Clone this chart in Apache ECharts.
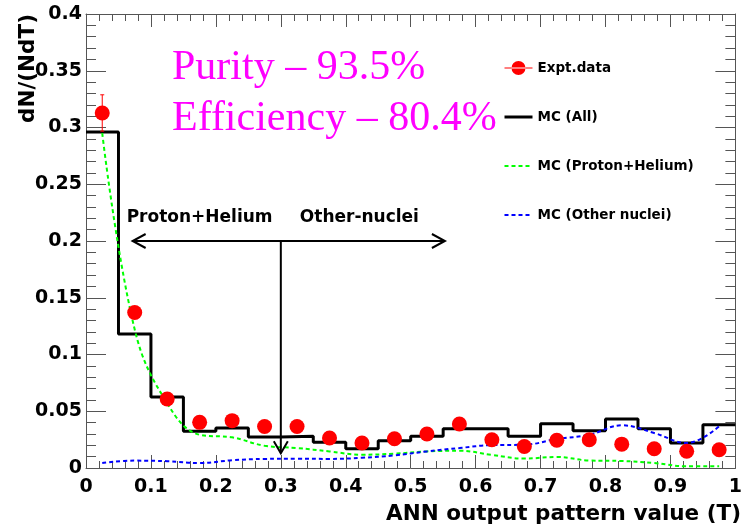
<!DOCTYPE html>
<html>
<head>
<meta charset="utf-8">
<script src="https://cdn.jsdelivr.net/npm/echarts@6/dist/echarts.min.js"></script>
<style>
  html, body { margin: 0; padding: 0; background: #fff; }
  #chart { width: 745px; height: 528px; }
</style>
</head>
<body>
<div id="chart"></div>
<script>
// bin centres of the ANN output T (20 bins of 0.05)
const tCentres = [0.025, 0.075, 0.125, 0.175, 0.225, 0.275, 0.325, 0.375, 0.425, 0.475,
                  0.525, 0.575, 0.625, 0.675, 0.725, 0.775, 0.825, 0.875, 0.925, 0.975];
const binHalf = 0.025;

const mcAll = [0.296, 0.118, 0.0625, 0.0323, 0.0352, 0.0273, 0.028, 0.0226, 0.017, 0.0241,
               0.028, 0.0346, 0.0346, 0.028, 0.039, 0.0328, 0.0432, 0.0346, 0.022, 0.038];
const mcProtonHelium = [0.295, 0.122, 0.057, 0.0293, 0.027, 0.0196, 0.0176, 0.0146, 0.0117, 0.0126,
                        0.0146, 0.0152, 0.0115, 0.0083, 0.0097, 0.0066, 0.0062, 0.0044, 0.0015, 0.0015];
const mcOther = [0.0044, 0.0065, 0.006, 0.0044, 0.0068, 0.008, 0.0082, 0.008, 0.009, 0.0111,
                 0.0146, 0.0176, 0.0202, 0.0205, 0.0255, 0.0293, 0.0376, 0.0308, 0.022, 0.0367];
const exptData = [0.3128, 0.137, 0.0608, 0.0402, 0.0417, 0.0366, 0.0366, 0.0264, 0.022, 0.0258,
                  0.0299, 0.0388, 0.0249, 0.019, 0.0244, 0.0249, 0.021, 0.017, 0.0147, 0.0161];
const exptErr = [0.016, 0.005, 0.004, 0.003, 0.003, 0.003, 0.003, 0.003, 0.003, 0.003,
                 0.003, 0.004, 0.003, 0.003, 0.003, 0.003, 0.003, 0.003, 0.003, 0.003];

const legendNames = ["Expt.data", "MC (All)", "MC (Proton+Helium)", "MC (Other nuclei)"];
const purityText = "Purity \u2013 93.5%";
const efficiencyText = "Efficiency \u2013 80.4%";

const SANS = "DejaVu Sans";
const FRAME = "#555";

// histogram outline: left edge of each bin, plus the closing right edge
const histData = mcAll.map((v, i) => [tCentres[i] - binHalf, v]);
histData.push([tCentres[tCentres.length - 1] + binHalf, mcAll[mcAll.length - 1]]);

const pairs = arr => arr.map((v, i) => [tCentres[i], v]);

const xAxisBase = position => ({
    type: "value", position, min: 0, max: 1, interval: 0.1,
    axisLine: {show: true, onZero: false, lineStyle: {color: FRAME, width: 1}},
    axisTick: {show: true, inside: true, length: 13, lineStyle: {color: FRAME}},
    minorTick: {show: true, splitNumber: 5, length: 7, lineStyle: {color: FRAME}},
    splitLine: {show: false},
    axisLabel: {
        show: position === "bottom", margin: 10, color: "#000",
        fontFamily: SANS, fontWeight: "bold", fontSize: 19
    }
});

const yAxisBase = position => ({
    type: "value", position, min: 0, max: 0.4, interval: 0.05,
    axisLine: {show: true, onZero: false, lineStyle: {color: FRAME, width: 1}},
    axisTick: {show: true, inside: true, length: 20, lineStyle: {color: FRAME}},
    minorTick: {show: true, splitNumber: 5, length: 10, lineStyle: {color: FRAME}},
    splitLine: {show: false},
    axisLabel: {
        show: position === "left", margin: 4, color: "#000",
        fontFamily: SANS, fontWeight: "bold", fontSize: 19
    }
});

// error bars with small caps
const renderErrorBar = (params, api) => {
    const x = api.value(0), y = api.value(1), e = api.value(2);
    const top = api.coord([x, y + e]);
    const bot = api.coord([x, y - e]);
    const style = {stroke: "#ff0000", lineWidth: 1};
    return {
        type: "group",
        children: [
            {type: "line", shape: {x1: top[0], y1: top[1], x2: bot[0], y2: bot[1]}, style},
            {type: "line", shape: {x1: top[0] - 2, y1: top[1], x2: top[0] + 2, y2: top[1]}, style},
            {type: "line", shape: {x1: bot[0] - 2, y1: bot[1], x2: bot[0] + 2, y2: bot[1]}, style}
        ]
    };
};

// the Proton+Helium / Other-nuclei arrows and labels
const renderArrows = (params, api) => {
    const left = api.coord([0.0718, 0.2]);
    const right = api.coord([0.5527, 0.2]);
    const mid = api.coord([0.3, 0.2]);
    const low = api.coord([0.3, 0.013]);
    const style = {stroke: "#000", lineWidth: 2, fill: null};
    const txt = {fill: "#000", font: `bold 17px "${SANS}"`, verticalAlign: "middle", align: "left"};
    return {
        type: "group",
        children: [
            {type: "line", shape: {x1: left[0], y1: left[1], x2: right[0], y2: right[1]}, style},
            {type: "polyline", shape: {points: [[left[0] + 13, left[1] - 7], left, [left[0] + 13, left[1] + 7]]}, style},
            {type: "polyline", shape: {points: [[right[0] - 13, right[1] - 7], right, [right[0] - 13, right[1] + 7]]}, style},
            {type: "line", shape: {x1: mid[0], y1: mid[1], x2: low[0], y2: low[1]}, style},
            {type: "polyline", shape: {points: [[low[0] - 7, low[1] - 12], low, [low[0] + 7, low[1] - 12]]}, style},
            {type: "text", style: Object.assign({x: left[0] - 6, y: left[1] - 23, text: "Proton+Helium"}, txt)},
            {type: "text", style: Object.assign({x: mid[0] + 19, y: mid[1] - 23, text: "Other-nuclei"}, txt)}
        ]
    };
};

const chart = echarts.init(document.getElementById("chart"), null, {renderer: "canvas"});

// legend line items: hide the marker that ECharts puts in the middle of a line icon
const noMarker = {opacity: 0};

chart.setOption({
    animation: false,
    backgroundColor: "#fff",
    grid: {left: 86, right: 4, top: 14, bottom: 60, containLabel: false},
    xAxis: [xAxisBase("bottom"), xAxisBase("top")],
    yAxis: [yAxisBase("left"), yAxisBase("right")],
    legend: {
        orient: "vertical", left: 498, top: 56,
        itemWidth: 28, itemHeight: 14, itemGap: 35,
        textStyle: {fontFamily: SANS, fontWeight: "bold", fontSize: 13.5, color: "#000"},
        data: [
            {name: legendNames[0], icon: "path://M0,6.5h28v1h-28z M7,7a7,7 0 1,0 14,0a7,7 0 1,0 -14,0z"},
            {name: legendNames[1], itemStyle: noMarker, lineStyle: {width: 3}},
            {name: legendNames[2], itemStyle: noMarker},
            {name: legendNames[3], itemStyle: noMarker}
        ]
    },
    graphic: [
        {type: "text", x: 172, y: 68, style: {text: purityText, fill: "#ff00ff",
            font: '42px "Liberation Serif"', verticalAlign: "middle"}},
        {type: "text", x: 172, y: 119, style: {text: efficiencyText, fill: "#ff00ff",
            font: '42px "Liberation Serif"', verticalAlign: "middle"}},
        {type: "text", x: 741, y: 514, style: {text: "ANN output pattern value (T)", fill: "#000",
            font: `bold 21.5px "${SANS}"`, align: "right", verticalAlign: "middle"}},
        {type: "text", x: 28, y: 14, rotation: Math.PI / 2, style: {text: "dN/(NdT)", fill: "#000",
            font: `bold 21.5px "${SANS}"`, align: "right", verticalAlign: "middle"}}
    ],
    series: [
        {
            name: legendNames[1], type: "line", step: "end", data: histData,
            symbol: "none", lineStyle: {color: "#000", width: 3}, itemStyle: {color: "#000"}, z: 2
        },
        {
            name: legendNames[2], type: "line", smooth: 0.4, data: pairs(mcProtonHelium),
            symbol: "none", lineStyle: {color: "#00ff00", width: 2, type: [4, 3]},
            itemStyle: {color: "#00ff00"}, z: 3
        },
        {
            name: legendNames[3], type: "line", smooth: 0.4, data: pairs(mcOther),
            symbol: "none", lineStyle: {color: "#0000ff", width: 2, type: [4, 3]},
            itemStyle: {color: "#0000ff"}, z: 3
        },
        {
            name: "errors", type: "custom", renderItem: renderErrorBar,
            data: exptData.map((v, i) => [tCentres[i], v, exptErr[i]]), z: 4, silent: true
        },
        {
            name: legendNames[0], type: "scatter", data: pairs(exptData),
            symbol: "circle", symbolSize: 15, itemStyle: {color: "#ff0000", opacity: 1}, z: 5
        },
        {
            name: "arrows", type: "custom", renderItem: renderArrows, data: [0], z: 6, silent: true
        }
    ]
});
</script>
</body>
</html>
